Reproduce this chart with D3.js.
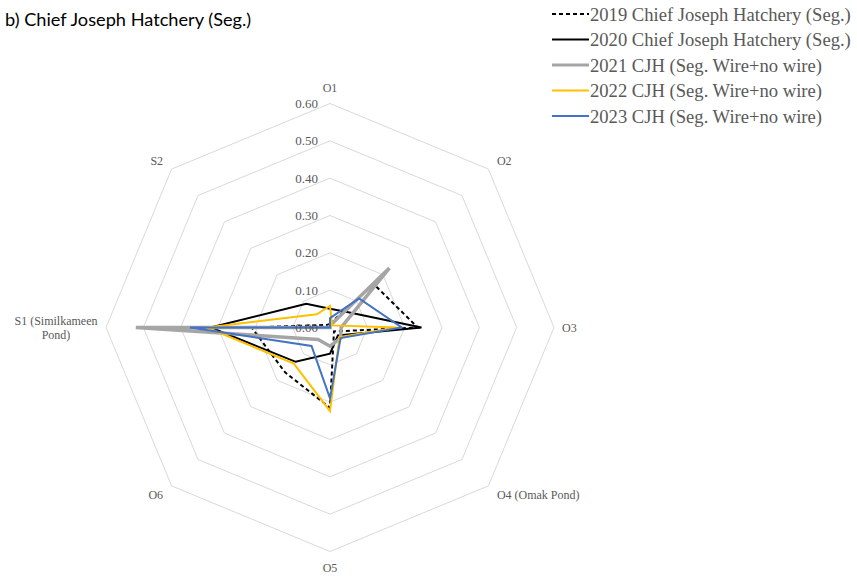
<!DOCTYPE html>
<html><head><meta charset="utf-8">
<script src="https://cdn.jsdelivr.net/npm/d3@7"></script>
<style>body{margin:0;background:#fff}svg{display:block}</style>
</head><body>
<svg id="chart" width="857" height="578"></svg>
<script>
const categories = ["O1","O2","O3","O4 (Omak Pond)","O5","O6","S1 (Similkameen Pond)","S2"];
const tickValues = [0,0.1,0.2,0.3,0.4,0.5,0.6];
const tickLabels = ["0.00","0.10","0.20","0.30","0.40","0.50","0.60"];
const seriesNames = ["2019 Chief Joseph Hatchery (Seg.)","2020 Chief Joseph Hatchery (Seg.)","2021 CJH (Seg. Wire+no wire)","2022 CJH (Seg. Wire+no wire)","2023 CJH (Seg. Wire+no wire)"];
const s2019 = [0.01, 0.165, 0.235, 0.015, 0.215, 0.17, 0.21, 0.01];
const s2020 = [0.05, 0.06, 0.245, 0.03, 0.07, 0.13, 0.32, 0.09];
const s2021 = [0.005, 0.225, 0.03, 0.04, 0.05, 0.045, 0.52, 0.0];
const s2022 = [0.058, 0.008, 0.18, 0.036, 0.224, 0.137, 0.33, 0.05];
const s2023 = [0.025, 0.11, 0.192, 0.04, 0.19, 0.07, 0.375, 0.0];

const styles = [
  {color:"#000000", width:2, dash:"4,3"},
  {color:"#000000", width:2, dash:null},
  {color:"#A5A5A5", width:3.5, dash:null},
  {color:"#FFC000", width:2, dash:null},
  {color:"#4472C4", width:2, dash:null}
];
const allSeries = [s2019,s2020,s2021,s2022,s2023];
const serif = "'Liberation Serif', 'Times New Roman', serif";

const svg = d3.select("#chart");
const cx = 330, cy = 327.5;
const r = d3.scaleLinear().domain([0,0.6]).range([0,224]);
const ang = d3.scaleLinear().domain([0,categories.length]).range([0,2*Math.PI]);
const g = svg.append("g").attr("transform",`translate(${cx},${cy})`);

// grid
const radial = d3.lineRadial().angle((d,i)=>ang(i)).radius(d=>r(d)).curve(d3.curveLinearClosed);
tickValues.filter(v=>v>0).forEach(v=>{
  g.append("path").attr("d", radial(categories.map(()=>v)))
   .attr("fill","none").attr("stroke","#d9d9d9").attr("stroke-width",1);
});

// series
allSeries.forEach((s,k)=>{
  const st = styles[k];
  g.append("path").attr("d", radial(s)).attr("fill","none")
   .attr("stroke",st.color).attr("stroke-width",st.width)
   .attr("stroke-dasharray",st.dash).attr("stroke-linejoin","miter");
});

// tick labels
tickValues.forEach((v,i)=>{
  g.append("text").attr("x",-12).attr("y",-r(v)).attr("dy","0.35em")
   .attr("text-anchor","end").attr("font-family",serif)
   .attr("font-size",13).attr("fill","#595959").text(tickLabels[i]);
});

// category labels
categories.forEach((c,i)=>{
  const a = ang(i);
  const sx = Math.sin(a), sy = -Math.cos(a);
  let R = 236, anchor = "middle";
  if (sx > 0.1) anchor = "start";
  if (sx < -0.1) anchor = "end";
  if (Math.abs(sx) < 0.1) R = 240;
  if (Math.abs(sy) < 0.1) R = 232;
  const t = g.append("text").attr("font-family",serif)
    .attr("font-size",12).attr("fill","#595959").attr("text-anchor",anchor);
  let lines = [c];
  if (c.startsWith("S1")) { lines = ["S1 (Similkameen","Pond)"]; }
  const x = sx*R, y = sy*R;
  if (lines.length > 1) {
    t.attr("text-anchor","middle");
    lines.forEach((l,j)=>{
      t.append("tspan").attr("x", x - 42).attr("y", y + (j-0.5)*14).attr("dy","0.35em").text(l);
    });
  } else {
    t.attr("x",x).attr("y",y).attr("dy","0.35em").text(c);
  }
});

// title
svg.append("text").attr("x",5).attr("y",26).attr("font-family","Lato, 'Open Sans', sans-serif")
  .attr("font-size",18.2).attr("fill","#000").text("b) Chief Joseph Hatchery (Seg.)");

// legend
const leg = svg.append("g");
seriesNames.forEach((n,k)=>{
  const y = 14 + k*25.5;
  const st = styles[k];
  leg.append("line").attr("x1",552).attr("x2",589).attr("y1",y).attr("y2",y)
    .attr("stroke",st.color).attr("stroke-width",st.width===3.5?3:2).attr("stroke-dasharray",st.dash);
  leg.append("text").attr("x",590).attr("y",y).attr("dy","0.35em")
    .attr("font-family",serif).attr("font-size",18.6)
    .attr("fill","#595959").text(n);
});
</script>
</body></html>
